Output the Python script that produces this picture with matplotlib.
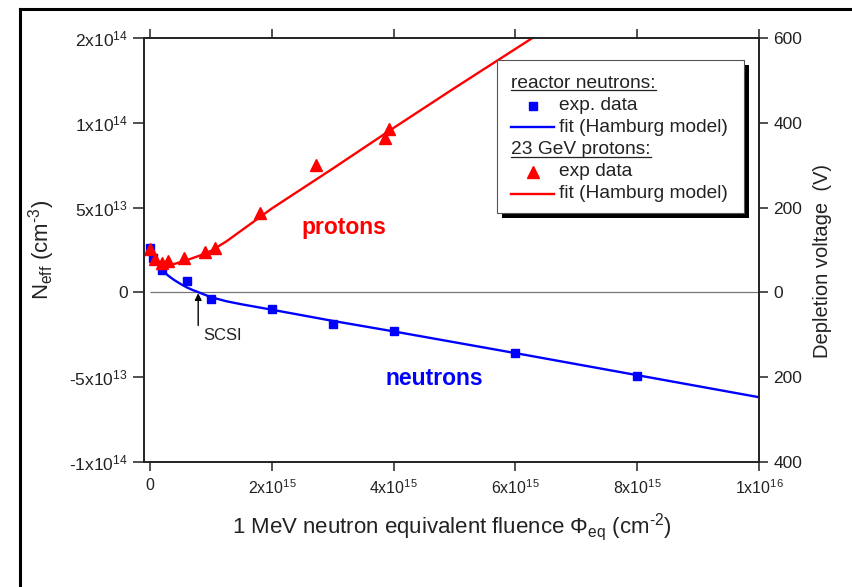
import matplotlib
matplotlib.use("Agg")
import matplotlib.pyplot as plt
from matplotlib.lines import Line2D
from matplotlib.patches import Rectangle

plt.rcParams['font.family'] = ['Liberation Sans', 'DejaVu Sans']
plt.rcParams['mathtext.fontset'] = 'custom'
plt.rcParams['mathtext.rm'] = 'Liberation Sans'
plt.rcParams['mathtext.it'] = 'Liberation Sans:italic'
plt.rcParams['mathtext.default'] = 'regular'

# reactor neutrons - measured points (fluence cm^-2, Neff cm^-3)
neu_flu = [0, 0.05e15, 0.2e15, 0.6e15, 1.0e15, 2.0e15, 3.0e15, 4.0e15, 6.0e15, 8.0e15]
neu_neff = [2.6e13, 2.0e13, 1.3e13, 0.65e13, -0.4e13, -1.0e13, -1.88e13, -2.28e13, -3.6e13, -4.94e13]

# reactor neutrons - Hamburg model fit
neu_fit_flu = [0, 0.05e15, 0.1e15, 0.2e15, 0.3e15, 0.4e15, 0.5e15, 0.6e15, 0.7e15, 0.8e15,
               1.0e15, 1.25e15, 1.5e15, 2.0e15, 3.0e15, 4.0e15, 6.0e15, 8.0e15, 10.0e15]
neu_fit_neff = [2.55e13, 2.1e13, 1.75e13, 1.3e13, 0.98e13, 0.72e13, 0.5e13, 0.3e13, 0.14e13, 0.0,
                -0.28e13, -0.52e13, -0.7e13, -1.02e13, -1.68e13, -2.3e13, -3.58e13, -4.88e13, -6.18e13]

# 23 GeV protons - measured points
pro_flu = [0, 0.08e15, 0.2e15, 0.3e15, 0.55e15, 0.9e15, 1.07e15, 1.8e15, 2.72e15, 3.86e15, 3.92e15]
pro_neff = [2.55e13, 1.95e13, 1.75e13, 1.85e13, 2.0e13, 2.4e13, 2.6e13, 4.7e13, 7.5e13, 9.1e13, 9.65e13]

# 23 GeV protons - Hamburg model fit
pro_fit_flu = [0, 0.05e15, 0.1e15, 0.15e15, 0.2e15, 0.3e15, 0.4e15, 0.6e15, 0.8e15, 1.0e15,
               1.25e15, 1.5e15, 2.0e15, 3.0e15, 4.0e15, 5.0e15, 6.3e15]
pro_fit_neff = [2.6e13, 2.15e13, 1.9e13, 1.75e13, 1.67e13, 1.63e13, 1.68e13, 1.9e13, 2.15e13, 2.45e13,
                3.0e13, 3.65e13, 4.95e13, 7.3e13, 9.7e13, 12.05e13, 15.05e13]

x_ticks = [0, 2e15, 4e15, 6e15, 8e15, 1e16]
x_tick_labels = ['0', '2x10$^{15}$', '4x10$^{15}$', '6x10$^{15}$', '8x10$^{15}$', '1x10$^{16}$']
y_ticks = [-1e14, -5e13, 0, 5e13, 1e14, 1.5e14]
y_tick_labels = ['-1x10$^{14}$', '-5x10$^{13}$', '0', '5x10$^{13}$', '1x10$^{14}$', '2x10$^{14}$']
v_ticks = [-400, -200, 0, 200, 400, 600]
v_tick_labels = ['400', '200', '0', '200', '400', '600']

BLUE = '#0000ff'
RED = '#ff0000'
INK = '#222222'

W, H = 852, 587
fig = plt.figure(figsize=(W / 100, H / 100), dpi=100)


def fx(p):
    return p / W


def fy(p):
    return 1 - p / H


ax = fig.add_axes([fx(144), fy(462), fx(759) - fx(144), fy(38) - fy(462)])
ax.set_xlim(-0.1e15, 1e16)
ax.set_ylim(-1e14, 1.5e14)

ax.hlines(0, 0, 1e16, color='#777777', lw=0.9, zorder=1)
ax.plot(neu_fit_flu, neu_fit_neff, color=BLUE, lw=1.7, zorder=2)
ax.plot(pro_fit_flu, pro_fit_neff, color=RED, lw=1.7, zorder=2)
ax.plot(neu_flu, neu_neff, 's', color=BLUE, ms=6, zorder=3, clip_on=False)
ax.plot(pro_flu, pro_neff, '^', color=RED, ms=8.5, zorder=3, clip_on=False)

ax.text(3.19e15, 3.82e13, 'protons', color=RED, fontsize=16.5, fontweight='bold',
        ha='center', va='center')
ax.text(4.66e15, -5.06e13, 'neutrons', color=BLUE, fontsize=16.5, fontweight='bold',
        ha='center', va='center')

ax.annotate('', xy=(0.79e15, -0.05e13), xytext=(0.79e15, -1.95e13),
            arrowprops=dict(arrowstyle='-|>', color='black', lw=1.0,
                            mutation_scale=10, shrinkA=0, shrinkB=0))
ax.text(0.87e15, -2.53e13, 'SCSI', fontsize=12, color=INK, ha='left', va='center')

for s in ax.spines.values():
    s.set_linewidth(1.2)
    s.set_color(INK)

ax.set_xticks(x_ticks, x_tick_labels)
ax.set_yticks(y_ticks, y_tick_labels)
ax.xaxis.set_ticks_position('both')
ax.tick_params(axis='x', direction='out', length=6.5, width=1.1, color=INK,
               labelsize=11.5, pad=5, labelcolor=INK, top=True, labeltop=False)
ax.tick_params(axis='y', direction='out', length=8, width=1.1, color=INK,
               labelsize=12.5, pad=3.5, labelcolor=INK)

ax2 = ax.twinx()
ax2.set_ylim(-400, 600)
ax2.set_yticks(v_ticks, v_tick_labels)
ax2.tick_params(axis='y', direction='out', length=6.5, width=1.1, color=INK,
                labelsize=12.5, pad=4, labelcolor=INK)
for s in ax2.spines.values():
    s.set_linewidth(1.2)
    s.set_color(INK)

# axis titles
fig.text(fx(452), fy(527), '1 MeV neutron equivalent fluence \u03a6$_{eq}$ (cm$^{\u20102}$)',
         fontsize=16, color=INK, ha='center', va='center')
fig.text(fx(42), fy(250), 'N$_{eff}$ (cm$^{\u20103}$)', fontsize=16, color=INK,
         rotation=90, ha='center', va='center')
fig.text(fx(823), fy(261), 'Depletion voltage  (V)', fontsize=14.5, color=INK,
         rotation=90, ha='center', va='center')

# outer frame (only left and top edges are inside the picture)
fig.add_artist(Line2D([fx(20), fx(20)], [fy(9), 0], color='black', lw=2.2,
                      transform=fig.transFigure))
fig.add_artist(Line2D([fx(20), 1], [fy(9), fy(9)], color='black', lw=2.2,
                      transform=fig.transFigure))

# legend box with hard shadow
fig.add_artist(Rectangle((fx(502), fy(218)), fx(749) - fx(502), fy(65) - fy(218),
                         facecolor='black', edgecolor='none', transform=fig.transFigure, zorder=4))
fig.add_artist(Rectangle((fx(497), fy(213)), fx(744) - fx(497), fy(60) - fy(213),
                         facecolor='white', edgecolor='#555555', lw=0.8,
                         transform=fig.transFigure, zorder=5))

rows = [
    ('head', 'reactor neutrons:', None, 83),
    ('marker', 'exp. data', dict(marker='s', color=BLUE, ms=6), 106),
    ('line', 'fit (Hamburg model)', dict(color=BLUE, lw=1.7), 127),
    ('head', '23 GeV protons:', None, 150),
    ('marker', 'exp data', dict(marker='^', color=RED, ms=8), 172),
    ('line', 'fit (Hamburg model)', dict(color=RED, lw=1.7), 194),
]
heads = []
for kind, label, style, py in rows:
    if kind == 'head':
        t = fig.text(fx(511), fy(py), label, fontsize=13.8, color=INK,
                     ha='left', va='center', zorder=6)
        heads.append((t, py))
        continue
    if kind == 'marker':
        fig.add_artist(Line2D([fx(533)], [fy(py)], linestyle='none',
                              transform=fig.transFigure, zorder=6, **style))
    else:
        fig.add_artist(Line2D([fx(511), fx(554)], [fy(py), fy(py)],
                              transform=fig.transFigure, zorder=6, **style))
    fig.text(fx(559), fy(py), label, fontsize=13.8, color=INK,
             ha='left', va='center', zorder=6)

# underline the legend headings
fig.canvas.draw()
for t, py in heads:
    bb = t.get_window_extent()
    fig.add_artist(Line2D([bb.x0 / W, bb.x1 / W], [fy(py + 7), fy(py + 7)], color=INK,
                          lw=0.9, transform=fig.transFigure, zorder=6))

fig.savefig('out.png', dpi=100)
